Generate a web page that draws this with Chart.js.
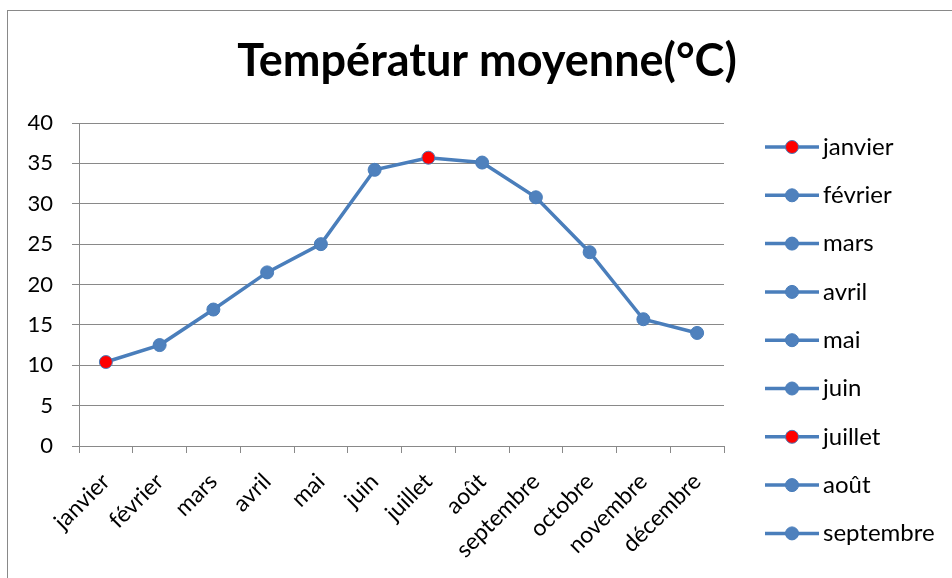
<!DOCTYPE html>
<html>
<head>
<meta charset="utf-8">
<script src="https://cdn.jsdelivr.net/npm/chart.js@4"></script>
<style>
  html, body { margin: 0; padding: 0; background: #fff; }
  #wrap { width: 952px; height: 578px; }
</style>
</head>
<body>
<div id="wrap"><canvas id="temp"></canvas></div>
<script>
const mois = ["janvier", "février", "mars", "avril", "mai", "juin", "juillet", "août", "septembre", "octobre", "novembre", "décembre"];
const temperatures = [10.4, 12.5, 16.9, 21.5, 25.0, 34.2, 35.7, 35.1, 30.8, 24.0, 15.7, 14.0];
const couleursPoints = ["#FF0000", "#4F81BD", "#4F81BD", "#4F81BD", "#4F81BD", "#4F81BD", "#FF0000", "#4F81BD", "#4F81BD", "#4F81BD", "#4F81BD", "#4F81BD"];
const titre = "Températur moyenne(°C)";

const police = "Lato, 'Open Sans', sans-serif";
const bleu = "#4A7EBB";
const gris = "#898989";

// cadre, titre et legende dessinés à la main (legende coupée en bas comme dans Excel)
const decor = {
  id: "decor",
  beforeDraw(chart) {
    const c = chart.ctx;
    c.save();
    c.fillStyle = "#fff";
    c.fillRect(0, 0, chart.width, chart.height);
    c.strokeStyle = gris;
    c.lineWidth = 1;
    c.strokeRect(7.5, 10.5, 1200, 1200);
    c.restore();
  },
  afterDraw(chart) {
    const c = chart.ctx;
    c.save();
    c.fillStyle = "#000";
    c.font = "bold 45px " + police;
    c.textAlign = "center";
    c.textBaseline = "middle";
    c.fillText(titre, 487, 61);

    c.font = "24px " + police;
    c.textAlign = "left";
    mois.forEach((m, i) => {
      const y = 147 + i * 48.3;
      if (y + 14 > chart.height) return; // plus de place
      c.strokeStyle = bleu;
      c.lineWidth = 3.5;
      c.beginPath();
      c.moveTo(765, y);
      c.lineTo(819, y);
      c.stroke();
      c.beginPath();
      c.arc(792, y, 6.5, 0, Math.PI * 2);
      c.fillStyle = couleursPoints[i];
      c.fill();
      c.lineWidth = 1;
      c.strokeStyle = bleu;
      c.stroke();
      c.fillStyle = "#000";
      c.fillText(m, 823, y);
    });
    c.restore();
  }
};

const ctx = document.getElementById("temp").getContext("2d");
const myChart = new Chart(ctx, {
  type: "line",
  data: {
    labels: mois,
    datasets: [{
      label: titre,
      data: temperatures,
      borderColor: bleu,
      borderWidth: 3.5,
      pointRadius: 6.5,
      pointHoverRadius: 6.5,
      pointBackgroundColor: couleursPoints,
      pointBorderColor: bleu,
      pointBorderWidth: 1,
      tension: 0
    }]
  },
  options: {
    responsive: true,
    maintainAspectRatio: false,
    animation: false,
    devicePixelRatio: 1,
    layout: { padding: { top: 123, right: 228, bottom: 0, left: 0 } },
    plugins: {
      legend: { display: false },
      title: { display: false },
      tooltip: { enabled: false }
    },
    scales: {
      x: {
        offset: true,
        afterFit(scale) { scale.height = 132; },
        grid: { offset: true, drawOnChartArea: false, drawTicks: true, tickLength: 7, color: gris },
        border: { display: true, color: gris },
        ticks: { color: "#000", font: { family: police, size: 23 }, minRotation: 45, maxRotation: 45, padding: 15, autoSkip: false }
      },
      y: {
        min: 0,
        max: 40,
        afterFit(scale) { scale.width = 79; },
        grid: { color: gris, tickLength: 7 },
        border: { display: true, color: gris },
        ticks: { stepSize: 5, color: "#000", font: { family: police, size: 22 }, padding: 19 }
      }
    }
  },
  plugins: [decor]
});
</script>
</body>
</html>
